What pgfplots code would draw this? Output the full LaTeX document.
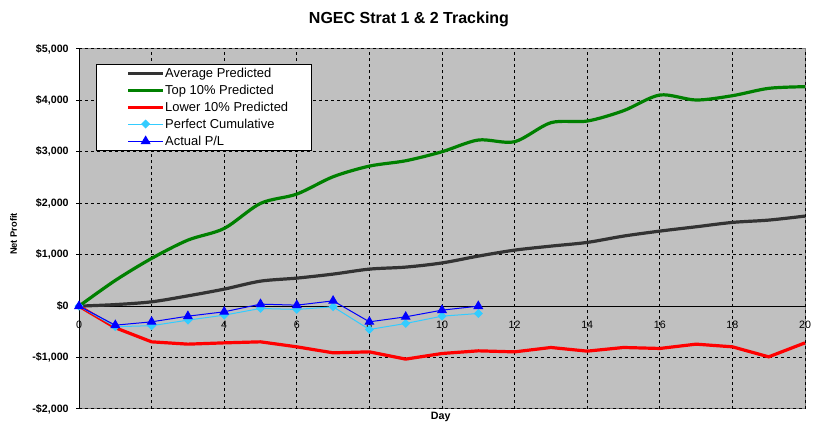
\documentclass[border=0pt]{standalone}
\usepackage{fontspec}
\setmainfont{Liberation Sans}
\usepackage{pgfplots}
\pgfplotsset{compat=1.18}
\definecolor{plotbg}{HTML}{C0C0C0}
\definecolor{bordergray}{HTML}{808080}
\definecolor{avggray}{HTML}{333333}
\definecolor{topgreen}{HTML}{008000}
\definecolor{lowred}{HTML}{FF0000}
\definecolor{perfcyan}{HTML}{33CCFF}
\definecolor{actblue}{HTML}{0000FF}
\begin{document}
\begin{tikzpicture}
\useasboundingbox (0,0) rectangle (615pt,318pt);
\begin{axis}[
  at={(59.25pt,11.25pt)}, anchor=south west,
  scale only axis, width=544.5pt, height=270pt,
  xmin=0, xmax=20, ymin=-2000, ymax=5000,
  axis x line=middle, axis y line=left,
  axis line style={-},
  x axis line style={black, line width=0.75pt},
  y axis line style={black, line width=0.75pt},
  axis background/.style={fill=plotbg, draw=bordergray, line width=0.75pt},
  xtick={0,2,...,20},
  xticklabels={0,2,4,6,8,10,12,14,16,18,20},
  ytick={-2000,-1000,...,5000},
  yticklabels={{-\$2,000},{-\$1,000},{\$0},{\$1,000},{\$2,000},{\$3,000},{\$4,000},{\$5,000}},
  hide obscured x ticks=false, hide obscured y ticks=false,
  tick align=outside,
  major tick length=2.25pt,
  x tick style={draw=none},
  y tick style={black, line width=0.75pt},
  xticklabel style={font=\fontsize{8}{9}\selectfont, yshift=-5.5pt},
  yticklabel style={font=\fontsize{8}{9}\selectfont\bfseries, xshift=-2pt},
  grid=major,
  major grid style={black, line width=0.75pt, dash pattern=on 2.25pt off 2.25pt},
  clip=false,
  legend style={draw=none, fill=none, at={(0.0657,0.9455)}, anchor=north west,
    inner sep=0pt, outer sep=0pt, row sep=5.7pt, column sep=0.5pt,
    font=\fontsize{9.7}{11}\selectfont,
    nodes={inner sep=0pt, text height=7pt, text depth=0pt}},
  legend cell align=left,
  legend image code/.code={\draw[mark repeat=2,mark phase=2,#1] plot coordinates {(0pt,0pt) (13pt,0pt) (26pt,0pt)};},
]
\draw[black, fill=white, line width=0.75pt] (rel axis cs:0.0244,0.9575) rectangle (rel axis cs:0.3209,0.7167);

\addplot[avggray, line width=2.4pt, smooth] coordinates {
(0,0) (1,30) (2,84) (3,200) (4,331) (5,486) (6,545) (7,623) (8,720) (9,759) (10,840)
(11,973) (12,1089) (13,1167) (14,1239) (15,1362) (16,1459) (17,1543) (18,1628) (19,1673) (20,1751)};
\addlegendentry{Average Predicted}

\addplot[topgreen, line width=2.4pt, smooth] coordinates {
(0,0) (1,500) (2,928) (3,1284) (4,1511) (5,1998) (6,2179) (7,2516) (8,2723) (9,2827) (10,3002)
(11,3230) (12,3197) (13,3567) (14,3599) (15,3800) (16,4105) (17,4008) (18,4092) (19,4235) (20,4267)};
\addlegendentry{Top 10\% Predicted}

\addplot[lowred, line width=2.4pt] coordinates {
(0,0) (1,-420) (2,-694) (3,-739) (4,-714) (5,-694) (6,-791) (7,-908) (8,-889) (9,-1030) (10,-921)
(11,-869) (12,-889) (13,-804) (14,-875) (15,-804) (16,-823) (17,-739) (18,-791) (19,-986) (20,-714)};
\addlegendentry{Lower 10\% Predicted}

\addplot[perfcyan, line width=0.75pt, mark=square*, mark size=2pt,
  mark options={rotate=45, fill=perfcyan, draw=perfcyan, solid}] coordinates {
(0,0) (1,-400) (2,-380) (3,-272) (4,-175) (5,-45) (6,-64) (7,-13) (8,-454) (9,-337) (10,-195) (11,-143)};
\addlegendentry{Perfect Cumulative}

\addplot[actblue, line width=0.75pt, mark=triangle*, mark size=3.6pt,
  mark options={fill=actblue, draw=actblue, solid}] coordinates {
(0,0) (1,-370) (2,-305) (3,-195) (4,-110) (5,39) (6,19) (7,103) (8,-305) (9,-208) (10,-78) (11,0)};
\addlegendentry{Actual P/L}
\end{axis}
\node[anchor=base, font=\fontsize{12}{14}\selectfont\bfseries] at (306.75pt,300.5pt) {NGEC Strat 1 \& 2 Tracking};
\node[rotate=90, font=\fontsize{7}{8}\selectfont\bfseries] at (10.1pt,142.5pt) {Net Profit};
\node[anchor=base, font=\fontsize{8}{9}\selectfont\bfseries] at (330.5pt,3pt) {Day};
\end{tikzpicture}
\end{document}
